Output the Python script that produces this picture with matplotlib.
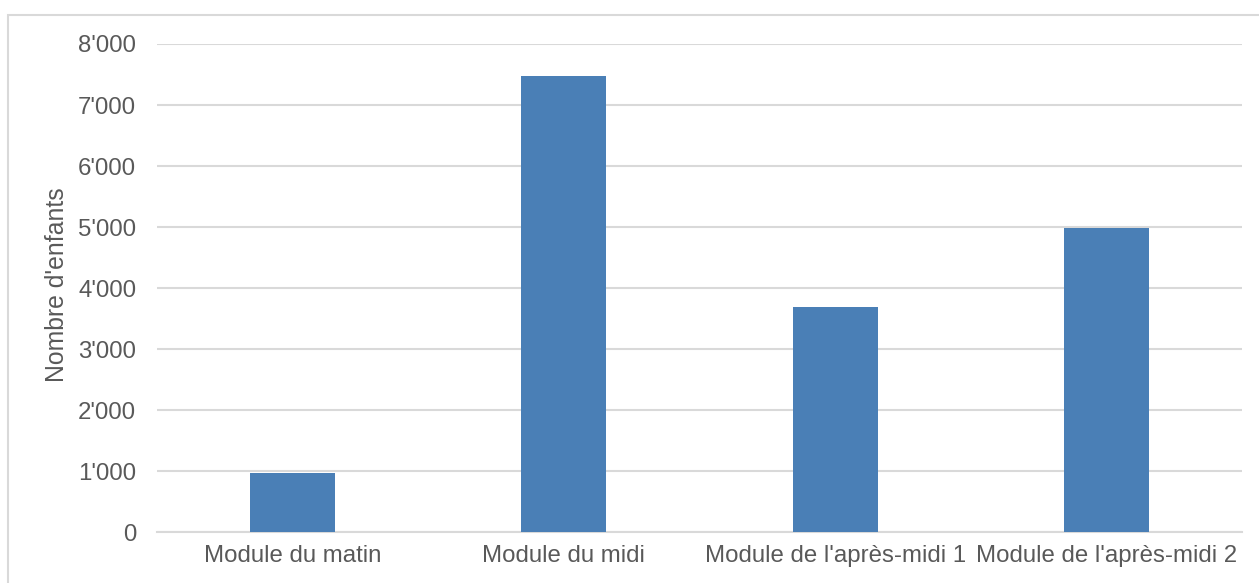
import matplotlib
matplotlib.use("Agg")
import matplotlib.pyplot as plt
from matplotlib.ticker import FuncFormatter
from matplotlib.patches import Rectangle

categories = ["Module du matin", "Module du midi", "Module de l'après-midi 1", "Module de l'après-midi 2"]
values = [975, 7475, 3695, 4980]
y_ticks = [0, 1000, 2000, 3000, 4000, 5000, 6000, 7000, 8000]

plt.rcParams['font.family'] = ['Liberation Sans', 'DejaVu Sans']
text_color = '#595959'
grid_color = '#D9D9D9'
bar_color = '#4A7FB6'

W, H = 1259, 583
fig = plt.figure(figsize=(W / 100, H / 100), dpi=100)
ax = fig.add_axes([157 / W, (H - 532.3) / H, (1242 - 157) / W, (532.3 - 44) / H])

x = range(len(categories))
ax.bar(x, values, width=0.313, color=bar_color, zorder=3)
ax.set_xlim(-0.5, len(categories) - 0.5)
ax.set_ylim(0, 8000)
ax.set_yticks(y_ticks)
ax.yaxis.set_major_formatter(FuncFormatter(lambda v, p: f"{int(v):,}".replace(",", "'")))
ax.set_xticks(list(x))
ax.set_xticklabels(categories)
ax.tick_params(axis='both', length=0, labelsize=17.3, labelcolor=text_color)
ax.tick_params(axis='y', pad=15)
ax.tick_params(axis='x', pad=9)
ax.grid(axis='y', color=grid_color, linewidth=1.5, zorder=0)
for s in ['top', 'right', 'left']:
    ax.spines[s].set_visible(False)
ax.spines['bottom'].set_color(grid_color)
ax.spines['bottom'].set_linewidth(1.5)
ax.set_ylabel("Nombre d'enfants", fontsize=17.8, color=text_color)
ax.yaxis.set_label_coords(69 / W, (H - 285) / H, transform=fig.transFigure)

# chart area border
fig.patches.append(Rectangle((8 / W, -0.1), 1.2, (H - 15) / H + 0.1, transform=fig.transFigure,
                             fill=False, edgecolor=grid_color, linewidth=1.5))

fig.savefig("out.png", dpi=100)
